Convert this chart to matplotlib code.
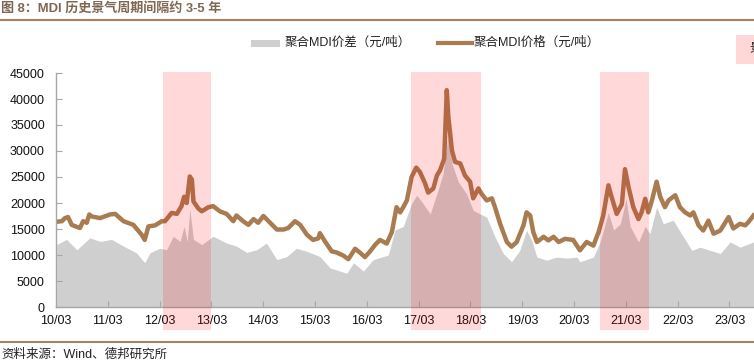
import matplotlib
matplotlib.use("Agg")
import matplotlib.pyplot as plt
from matplotlib.patches import Rectangle
from matplotlib.lines import Line2D
import matplotlib.transforms as mtransforms

plt.rcParams['font.family'] = ['Liberation Sans', 'Noto Sans CJK SC', 'DejaVu Sans']

# 聚合MDI价格（元/吨），按年份小数读取
price_years = [
    2010.18, 2010.28, 2010.34, 2010.40, 2010.47, 2010.57, 2010.63, 2010.69, 2010.76, 2010.81,
    2010.86, 2011.02, 2011.21, 2011.31, 2011.47, 2011.66, 2011.82, 2011.88, 2011.95, 2012.08,
    2012.21, 2012.27, 2012.40, 2012.50, 2012.59, 2012.64, 2012.69, 2012.75, 2012.79, 2012.82,
    2012.91, 2012.98, 2013.11, 2013.20, 2013.33, 2013.46, 2013.59, 2013.65, 2013.78, 2013.88,
    2013.98, 2014.07, 2014.17, 2014.30, 2014.43, 2014.56, 2014.65, 2014.78, 2014.88, 2015.01,
    2015.13, 2015.23, 2015.26, 2015.36, 2015.49, 2015.58, 2015.71, 2015.81, 2015.94, 2016.03,
    2016.13, 2016.23, 2016.33, 2016.42, 2016.55, 2016.65, 2016.74, 2016.81, 2016.87, 2016.94,
    2017.03, 2017.12, 2017.19, 2017.29, 2017.35, 2017.45, 2017.52, 2017.58, 2017.66, 2017.71,
    2017.74, 2017.81, 2017.87, 2017.97, 2018.06, 2018.16, 2018.22, 2018.32, 2018.38, 2018.48,
    2018.58, 2018.64, 2018.74, 2018.87, 2018.96, 2019.06, 2019.19, 2019.25, 2019.32, 2019.38,
    2019.45, 2019.58, 2019.67, 2019.77, 2019.87, 2019.99, 2020.15, 2020.28, 2020.41, 2020.54,
    2020.64, 2020.73, 2020.83, 2020.89, 2020.99, 2021.09, 2021.15, 2021.22, 2021.31, 2021.41,
    2021.47, 2021.54, 2021.60, 2021.67, 2021.76, 2021.83, 2021.92, 2021.99, 2022.12, 2022.21,
    2022.31, 2022.41, 2022.47, 2022.57, 2022.66, 2022.76, 2022.86, 2022.99, 2023.15, 2023.24,
    2023.37, 2023.47, 2023.53, 2023.63,
]
price_vals = [
    16400, 16500, 17100, 17300, 15800, 15400, 15200, 16500, 16200, 17800,
    17400, 17100, 17800, 17900, 16500, 15800, 13900, 12900, 15500, 15700,
    16500, 16500, 18100, 17900, 19400, 21200, 20000, 25100, 24500, 20300,
    19000, 18400, 19200, 19400, 18400, 17900, 16500, 17600, 16500, 15800,
    16900, 16200, 17500, 16200, 14900, 14900, 15200, 16500, 15800, 13900,
    12900, 13200, 14200, 12600, 10700, 10500, 9900, 9200, 11200, 10500,
    9600, 10700, 12000, 12900, 12200, 14400, 19200, 18200, 19200, 20500,
    25000, 26800, 26000, 23800, 22000, 22800, 25300, 26300, 28500, 41700,
    36600, 30100, 27900, 27600, 25300, 24100, 20900, 22800, 21800, 20500,
    20900, 19200, 16000, 12500, 11600, 12500, 15700, 18200, 17600, 14400,
    12500, 13500, 12800, 13500, 12500, 13100, 12900, 10900, 12500, 11800,
    14400, 17600, 23400, 21200, 17900, 19800, 26500, 23000, 19200, 16900,
    18200, 20800, 18200, 20500, 24100, 21200, 19200, 20500, 21500, 19200,
    18200, 17600, 18200, 15700, 14700, 16600, 14100, 14700, 17300, 15100,
    16000, 15700, 16300, 17600,
]

# 聚合MDI价差（元/吨）
spread_years = [
    2010.18, 2010.37, 2010.57, 2010.82, 2011.02, 2011.24, 2011.47, 2011.72, 2011.88, 2011.98,
    2012.17, 2012.30, 2012.43, 2012.56, 2012.64, 2012.70, 2012.75, 2012.82, 2012.98, 2013.20,
    2013.46, 2013.65, 2013.85, 2014.04, 2014.23, 2014.43, 2014.62, 2014.81, 2015.01, 2015.26,
    2015.46, 2015.78, 2015.91, 2016.10, 2016.29, 2016.42, 2016.58, 2016.71, 2016.87, 2017.03,
    2017.13, 2017.23, 2017.39, 2017.52, 2017.64, 2017.74, 2017.81, 2017.93, 2018.09, 2018.22,
    2018.35, 2018.48, 2018.64, 2018.80, 2018.96, 2019.12, 2019.25, 2019.35, 2019.45, 2019.64,
    2019.83, 2020.03, 2020.22, 2020.28, 2020.54, 2020.67, 2020.83, 2020.93, 2021.06, 2021.17,
    2021.25, 2021.41, 2021.54, 2021.63, 2021.76, 2021.89, 2022.08, 2022.24, 2022.44, 2022.60,
    2022.79, 2022.99, 2023.18, 2023.37, 2023.63,
]
spread_vals = [
    12000, 13000, 11000, 13300, 12600, 13000, 11700, 10400, 8500, 10400,
    11300, 11000, 13600, 12600, 15500, 12600, 18800, 13000, 12000, 13600,
    12300, 11700, 10500, 11000, 12300, 9100, 9700, 11300, 10700, 9700,
    7500, 6500, 8500, 6900, 9100, 9500, 10000, 14800, 15500, 19900,
    21500, 20200, 17900, 21800, 25700, 33400, 27600, 24100, 21800, 18600,
    17900, 17300, 13500, 10300, 8700, 10900, 14800, 12800, 9600, 9000,
    9600, 9400, 9600, 8700, 9600, 12500, 18200, 14800, 16000, 20800,
    15500, 12500, 15500, 14100, 19200, 16000, 16700, 14100, 10900, 11500,
    10900, 10300, 12500, 11500, 12500,
]

# 景气周期区间
boom_start = [2012.23, 2017.02, 2020.67]
boom_end = [2013.16, 2018.37, 2021.61]

tick_years = [2010.167 + k for k in range(14)]
tick_labels = ["%02d/03" % (10 + k) for k in range(14)]

W, H = 754, 362
fig = plt.figure(figsize=(W / 100, H / 100), dpi=100)


def fx(px):
    return px / W


def fy(py):
    return 1 - py / H


ax = fig.add_axes([fx(56), fy(307), fx(754) - fx(56), fy(73) - fy(307)])

grey = "#D0CFD0"
brown = "#A87B50"

ax.fill_between(spread_years, spread_vals, 0, color=grey, lw=0, zorder=1)
ax.plot(price_years, price_vals, color=brown, lw=3.2, solid_joinstyle="round", zorder=2)

trans = mtransforms.blended_transform_factory(ax.transData, ax.transAxes)
for s, e in zip(boom_start, boom_end):
    ax.add_patch(Rectangle((s, -0.098), e - s, 1.104, transform=trans,
                           facecolor=(1, 0, 0, 0.15), edgecolor="none",
                           clip_on=False, zorder=5))

ax.set_xlim(2010.167, 2023.64)
ax.set_ylim(0, 45000)
ax.set_yticks(range(0, 45001, 5000))
ax.set_xticks(tick_years)
ax.set_xticklabels(tick_labels)

for sp in ["top", "right"]:
    ax.spines[sp].set_visible(False)
for sp in ["left", "bottom"]:
    ax.spines[sp].set_color("#A6A6A6")
    ax.spines[sp].set_linewidth(1)
ax.tick_params(axis="both", direction="in", length=4, color="#A6A6A6",
               labelsize=9, labelcolor="#111111")
ax.tick_params(axis="x", pad=6)
ax.tick_params(axis="y", pad=8)

# 图题与分隔线
fig.text(fx(1), fy(8), "图 8：MDI 历史景气周期间隔约 3-5 年", fontsize=9.4,
         fontweight="bold", color="#7E6753", va="center", ha="left",
         family=["Liberation Sans", "Noto Sans CJK SC"])
rule_color = "#A98061"
fig.add_artist(Line2D([0, 1], [fy(20), fy(20)], transform=fig.transFigure,
                      color=rule_color, lw=1.5))
fig.add_artist(Line2D([0, 1], [fy(342), fy(342)], transform=fig.transFigure,
                      color=rule_color, lw=1.5))
fig.text(fx(1), fy(355), "资料来源：Wind、德邦研究所", fontsize=9,
         color="#222222", va="center", ha="left",
         family=["Liberation Sans", "Noto Sans CJK SC"])

# 图例
fig.add_artist(Rectangle((fx(251), fy(46.5)), fx(280) - fx(251), fy(40) - fy(46.5),
                         transform=fig.transFigure, facecolor=grey, edgecolor="none"))
fig.text(fx(285), fy(43), "聚合MDI价差（元/吨）", fontsize=9, va="center", color="#222222")
fig.add_artist(Line2D([fx(438), fx(472)], [fy(43), fy(43)], transform=fig.transFigure,
                      color=brown, lw=3))
fig.text(fx(474), fy(43), "聚合MDI价格（元/吨）", fontsize=9, va="center", color="#222222")
fig.add_artist(Rectangle((fx(736), fy(64)), fx(780) - fx(736), fy(35) - fy(64),
                         transform=fig.transFigure, facecolor="#FFD7D7", edgecolor="none"))
fig.text(fx(749), fy(49), "景气周期", fontsize=9, va="center", color="#222222")

fig.savefig("out.png", dpi=100)
